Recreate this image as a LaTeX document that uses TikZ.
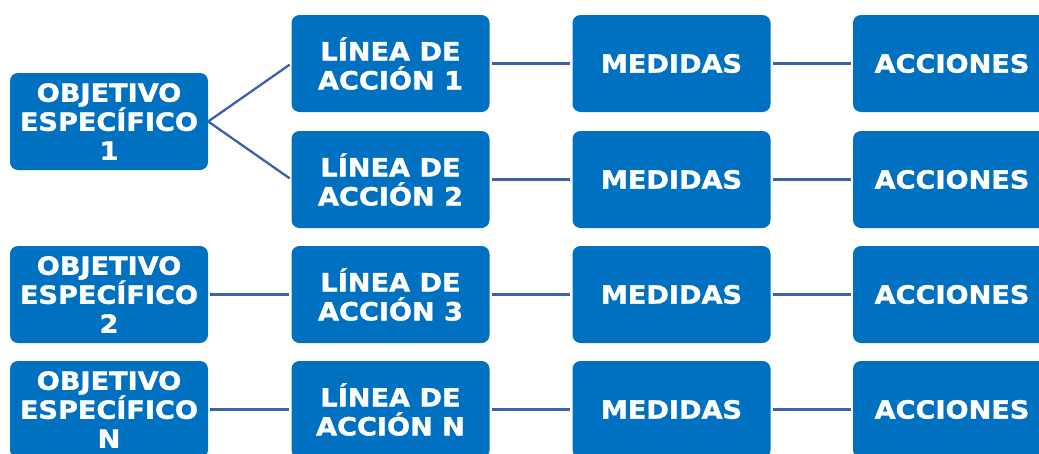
\documentclass[tikz,border=0pt]{standalone}
\usepackage{fontspec}
\newfontfamily\boxfont[FakeStretch=1.085, BoldFeatures={FakeBold=1.6}]{DejaVu Sans}
\definecolor{boxblue}{HTML}{0070C0}
\definecolor{linkblue}{HTML}{3F5FAD}
\begin{document}
\begin{tikzpicture}[x=1pt,y=-1pt,
  box/.style={fill=boxblue, rounded corners=8pt, minimum width=198pt, minimum height=97pt,
    inner sep=0pt, text=white, align=center, font=\boxfont\bfseries\fontsize{25}{29}\selectfont},
  link/.style={draw=linkblue, line width=2.3pt, shorten <=2pt, shorten >=2pt}]
\clip (0,0) rectangle (1039,453);
\fill[white] (0,0) rectangle (1039,453);
% objectives
\node[box] (o1) at (109,121.5) {OBJETIVO\\ESPECÍFICO\\1};
\node[box] (o2) at (109,294.5) {OBJETIVO\\ESPECÍFICO\\2};
\node[box] (on) at (109,409.5) {OBJETIVO\\ESPECÍFICO\\N};
% lines of action
\node[box] (l1) at (390.5,63.5) {LÍNEA DE\\ACCIÓN 1};
\node[box] (l2) at (390.5,179.5) {LÍNEA DE\\ACCIÓN 2};
\node[box] (l3) at (390.5,294.5) {LÍNEA DE\\ACCIÓN 3};
\node[box] (ln) at (390.5,409.5) {LÍNEA DE\\ACCIÓN N};
% measures
\node[box] (m1) at (671.5,63.5) {MEDIDAS};
\node[box] (m2) at (671.5,179.5) {MEDIDAS};
\node[box] (m3) at (671.5,294.5) {MEDIDAS};
\node[box] (mn) at (671.5,409.5) {MEDIDAS};
% actions
\node[box] (a1) at (952,63.5) {ACCIONES};
\node[box] (a2) at (952,179.5) {ACCIONES};
\node[box] (a3) at (952,294.5) {ACCIONES};
\node[box] (an) at (952,409.5) {ACCIONES};
% connectors
\draw[link, shorten <=0pt] (o1.east) -- (l1.west);
\draw[link, shorten <=0pt] (o1.east) -- (l2.west);
\draw[link] (o2) -- (l3);
\draw[link] (on) -- (ln);
\foreach \r in {1,2,3,n}{
  \draw[link] (l\r) -- (m\r);
  \draw[link] (m\r) -- (a\r);
}
\end{tikzpicture}
\end{document}
